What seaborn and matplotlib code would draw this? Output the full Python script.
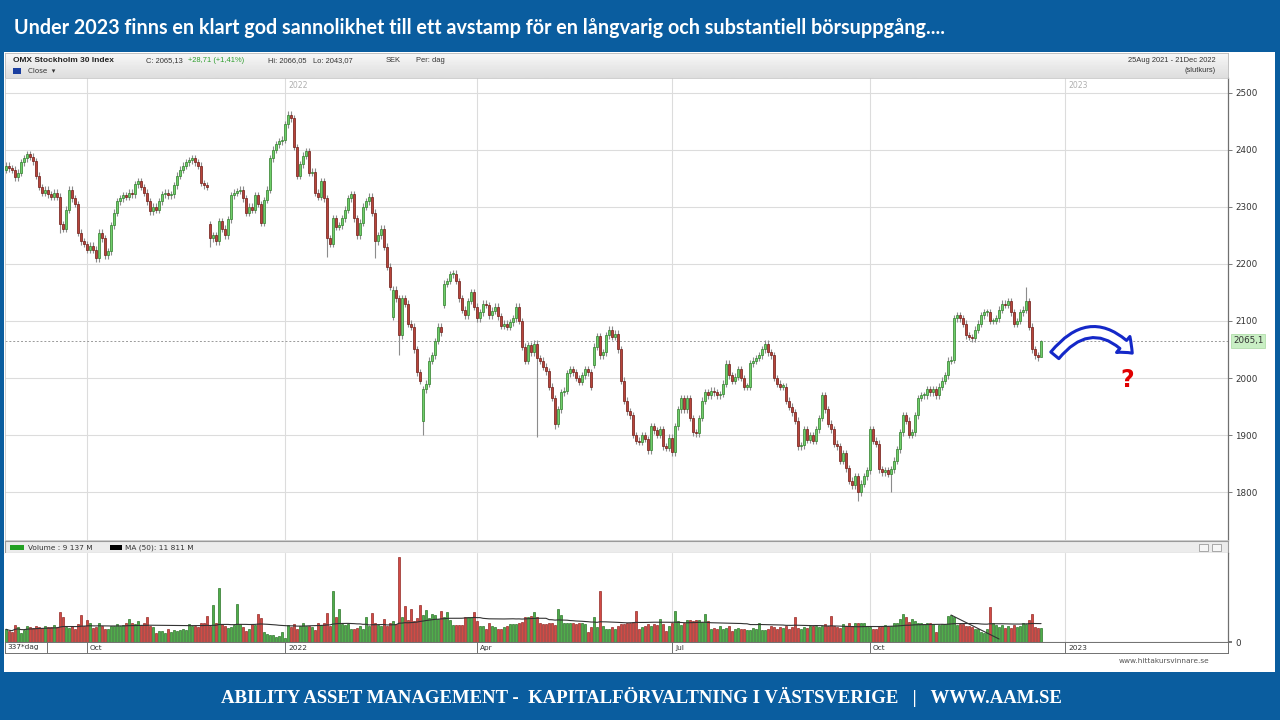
import numpy as np
import pandas as pd
import matplotlib
matplotlib.use("Agg")
import matplotlib.pyplot as plt
from matplotlib.patches import Rectangle, FancyArrowPatch
import seaborn as sns

# Slide texts
title = "Under 2023 finns en klart god sannolikhet till ett avstamp för en långvarig och substantiell börsuppgång...."
footer = "ABILITY ASSET MANAGEMENT -  KAPITALFÖRVALTNING I VÄSTSVERIGE   |   WWW.AAM.SE"
index_name = "OMX Stockholm 30 Index"

start_date = "2021-08-25"
end_date = "2022-12-21"

# Daily closes (OMXS30)
closes = [
    2372, 2368, 2365, 2352, 2360, 2378, 2385, 2392, 2388, 2380,
    2355, 2335, 2325, 2330, 2322, 2318, 2325, 2318, 2270, 2262,
    2295, 2330, 2315, 2305, 2255, 2240, 2235, 2225, 2232, 2225,
    2210, 2255, 2245, 2215, 2222, 2268, 2290, 2310, 2315, 2320,
    2318, 2325, 2322, 2340, 2345, 2335, 2325, 2310, 2292, 2300,
    2295, 2310, 2322, 2325, 2320, 2322, 2338, 2355, 2365, 2372,
    2378, 2382, 2385, 2378, 2372, 2342, 2338, 2335, 2245, 2250,
    2240, 2275, 2262, 2250, 2278, 2320, 2325, 2328, 2330, 2315,
    2290, 2300, 2295, 2320, 2305, 2272, 2312, 2330, 2385, 2400,
    2410, 2415, 2418, 2445, 2462, 2455, 2405, 2355, 2375, 2390,
    2398, 2360, 2362, 2325, 2318, 2345, 2315, 2245, 2235, 2280,
    2265, 2268, 2280, 2295, 2315, 2322, 2280, 2250, 2272, 2300,
    2310, 2318, 2290, 2240, 2250, 2262, 2230, 2195, 2160, 2155,
    2140, 2075, 2140, 2130, 2095, 2090, 2050, 2010, 1995, 1980,
    1990, 2030, 2040, 2065, 2090, 2080, 2165, 2170, 2182, 2183,
    2170, 2140, 2120, 2110, 2135, 2150, 2125, 2105, 2115, 2130,
    2128, 2110, 2118, 2125, 2108, 2092, 2095, 2090, 2098, 2105,
    2125, 2100, 2055, 2030, 2058, 2045, 2060, 2035, 2030, 2020,
    2012, 1985, 1965, 1920, 1945, 1975, 1978, 2008, 2015, 2010,
    2000, 1993, 2005, 2015, 2010, 1985, 2055, 2073, 2040, 2045,
    2075, 2085, 2072, 2078, 2050, 1995, 1960, 1942, 1935, 1900,
    1890, 1888, 1900, 1893, 1873, 1915, 1908, 1900, 1910, 1880,
    1878, 1895, 1870, 1915, 1945, 1965, 1945, 1965, 1930, 1905,
    1903, 1930, 1960, 1975, 1970, 1978, 1975, 1970, 1972, 1990,
    2025, 2005, 1995, 2002, 2015, 2000, 1985, 1985, 2026, 2030,
    2035, 2040, 2050, 2060, 2045, 2040, 2000, 1990, 1985, 1985,
    1960, 1950, 1940, 1925, 1880, 1882, 1910, 1892, 1900, 1890,
    1910, 1930, 1970, 1945, 1920, 1910, 1885, 1880, 1855, 1868,
    1842, 1820, 1812, 1828, 1800, 1815, 1828, 1838, 1910, 1890,
    1885, 1840, 1835, 1838, 1832, 1840, 1855, 1875, 1905, 1935,
    1925, 1900, 1905, 1935, 1965, 1970, 1970, 1980, 1975, 1980,
    1970, 1985, 1995, 2005, 2030, 2032, 2105, 2110, 2105, 2095,
    2075, 2072, 2070, 2085, 2095, 2110, 2115, 2115, 2100, 2100,
    2105, 2120, 2130, 2128, 2135, 2115, 2095, 2100, 2115, 2120,
    2135, 2090, 2050, 2040, 2036.42, 2065.13,
]

# Opens that gapped away from the previous close
gap_opens = {0: 2365, 68: 2270, 129: 2107, 139: 1925, 146: 2128, 196: 2023}
# Long shadows
wick_lows = {18: 2255, 30: 2203, 68: 2230, 107: 2212, 123: 2210, 131: 2040,
             139: 1900, 177: 1897, 183: 1910, 284: 1784, 295: 1800, 345: 2043.07}
wick_highs = {94: 2468, 340: 2160, 345: 2066.05}

# Daily turnover, thousands of M SEK
volumes = [
    8.5, 7.2, 7.0, 11.2, 9.8, 6.0, 8.0, 10.5, 10.0, 9.4,
    10.5, 10.2, 9.5, 10.8, 9.8, 10.0, 11.5, 10.0, 19.8, 17.0,
    10.0, 9.5, 10.8, 8.5, 12.0, 17.8, 11.0, 15.0, 12.5, 9.2,
    10.0, 13.0, 10.5, 9.0, 8.5, 11.0, 10.5, 12.0, 10.8, 11.5,
    12.5, 15.5, 13.0, 12.0, 14.0, 11.5, 12.5, 17.0, 11.0, 10.0,
    5.8, 7.2, 7.5, 6.0, 9.0, 7.0, 8.2, 7.5, 7.8, 8.5,
    8.0, 12.0, 10.5, 11.0, 10.0, 12.5, 13.0, 17.5, 11.0, 24.5,
    12.5, 36.0, 12.0, 10.5, 9.5, 10.0, 11.5, 25.5, 12.0, 10.0,
    7.5, 8.8, 12.0, 11.5, 18.5, 16.0, 6.5, 5.5, 4.5, 5.0,
    3.5, 4.0, 6.5, 3.0, 11.5, 10.0, 12.0, 8.5, 10.5, 12.5,
    11.0, 10.5, 10.0, 8.0, 12.5, 11.5, 13.0, 19.5, 11.0, 34.0,
    16.5, 22.0, 12.0, 11.5, 12.0, 9.0, 8.5, 9.5, 10.5, 9.0,
    17.0, 11.0, 19.5, 12.5, 11.5, 10.5, 15.5, 11.0, 12.5, 14.0,
    12.0, 57.0, 17.0, 24.0, 15.0, 22.0, 14.0, 16.0, 25.0, 18.0,
    21.5, 16.0, 19.0, 18.0, 15.5, 21.0, 17.0, 20.0, 14.5, 11.5,
    11.5, 11.5, 11.5, 17.0, 16.5, 17.0, 20.0, 14.0, 10.5, 11.0,
    9.0, 13.0, 10.5, 10.0, 9.0, 8.5, 10.0, 11.0, 12.0, 12.0,
    12.0, 13.0, 13.5, 17.0, 17.0, 17.5, 20.0, 17.0, 12.5, 12.0,
    12.0, 12.5, 13.0, 11.5, 22.0, 18.0, 12.5, 12.5, 13.0, 12.5,
    12.0, 12.5, 13.0, 12.0, 7.0, 10.0, 17.0, 10.0, 34.0, 11.0,
    8.5, 8.5, 10.0, 9.0, 11.0, 12.0, 12.0, 12.5, 13.0, 13.5,
    21.0, 8.5, 10.0, 11.0, 12.0, 11.0, 12.0, 11.5, 15.5, 12.0,
    7.5, 11.0, 13.0, 21.0, 14.0, 11.5, 12.5, 15.0, 15.0, 14.0,
    14.5, 15.0, 13.5, 19.0, 14.0, 9.0, 9.5, 9.0, 10.5, 8.5,
    9.5, 10.5, 7.5, 9.0, 9.5, 8.5, 9.0, 8.0, 8.0, 9.5,
    8.5, 13.0, 8.0, 8.0, 9.0, 10.5, 10.0, 9.0, 10.0, 9.5,
    10.5, 8.5, 10.0, 16.5, 9.5, 8.5, 10.0, 9.5, 10.5, 10.5,
    11.0, 10.0, 10.5, 12.0, 10.5, 17.5, 11.0, 10.0, 9.5, 12.0,
    10.5, 12.5, 11.0, 12.5, 13.0, 13.0, 12.5, 10.5, 10.0, 9.0,
    9.0, 10.0, 11.0, 11.5, 10.5, 11.0, 12.5, 13.0, 15.5, 18.5,
    17.0, 13.5, 15.5, 14.0, 13.0, 12.5, 12.0, 12.5, 13.0, 12.0,
    7.0, 11.5, 12.0, 12.0, 17.5, 18.0, 17.0, 11.5, 12.0, 12.0,
    10.5, 11.0, 10.0, 9.0, 8.5, 7.0, 6.0, 9.0, 23.5, 12.5,
    11.5, 10.0, 11.5, 9.5, 11.0, 9.5, 11.5, 10.0, 10.5, 12.5,
    12.0, 14.5, 19.0, 10.0, 9.5, 9.137,
]
# hand drawn trend line in the volume panel (day index, volume)
drawn_line_x = [315, 331]
drawn_line_y = [18.0, 2.0]

price_ticks = [1800, 1900, 2000, 2100, 2200, 2300, 2400, 2500]
quarter_labels = ["Oct", "2022", "Apr", "Jul", "Oct", "2023"]
quarter_starts = ["2021-10-01", "2022-01-01", "2022-04-01", "2022-07-01", "2022-10-01", "2023-01-01"]

last_close = closes[-1]

# ---------------------------------------------------------------
dates = pd.bdate_range(start_date, end_date)
n = len(closes)
assert len(dates) == n and len(volumes) == n
axis_days = pd.bdate_range(start_date, "2023-03-31")
tick_pos = [int(np.searchsorted(axis_days, pd.Timestamp(d))) for d in quarter_starts]

x = np.arange(n)
c = np.array(closes, dtype=float)
o = np.r_[c[0], c[:-1]]
for i, v in gap_opens.items():
    o[i] = v
WICK = 6
hi = np.maximum(o, c) + WICK
lo = np.minimum(o, c) - WICK
for i, v in wick_lows.items():
    lo[i] = v
for i, v in wick_highs.items():
    hi[i] = v
up = c >= o

sns.set_theme(style="white")
plt.rcParams["font.family"] = ["DejaVu Sans"]

W, H = 1280, 720
BLUE = "#0a5d9f"
fig = plt.figure(figsize=(W / 100, H / 100), dpi=100, facecolor=BLUE)


def box(x0, y0, x1, y1):
    return fig.add_axes([x0 / W, 1 - y1 / H, (x1 - x0) / W, (y1 - y0) / H])


def ftext(xp, yp, s, **kw):
    return fig.text(xp / W, 1 - yp / H, s, **kw)


fig.add_artist(Rectangle((4 / W, 1 - 672 / H), 1271 / W, 620 / H, transform=fig.transFigure,
                         fc="white", ec="none", zorder=-5))

XLIM = (-0.33, 407.3)

# header strip
axh = box(5, 53, 1228, 78)
grad = np.linspace(0.97, 0.87, 20).reshape(-1, 1)
axh.imshow(grad, aspect="auto", cmap="gray", vmin=0, vmax=1, extent=(0, 1, 0, 1))
axh.set_xticks([]); axh.set_yticks([])
for s in axh.spines.values():
    s.set_color("#b8b8b8"); s.set_linewidth(0.6)

small = 5.4
hdr = dict(fontsize=small, va="center", family=["Liberation Sans", "DejaVu Sans"])
ftext(13, 61, index_name, fontsize=6, fontweight="bold", color="#222", va="center",
      family=["Liberation Sans", "DejaVu Sans"])
ftext(146, 61, "C: 2065,13", color="#333", **hdr)
ftext(188, 61, "+28,71 (+1,41%)", color="#2e9e2e", **hdr)
ftext(268, 61, "Hi: 2066,05", color="#333", **hdr)
ftext(313, 61, "Lo: 2043,07", color="#333", **hdr)
ftext(386, 61, "SEK", color="#333", **hdr)
ftext(416, 61, "Per: dag", color="#333", **hdr)
fig.add_artist(Rectangle((13 / W, 1 - 74 / H), 8 / W, 6 / H, transform=fig.transFigure,
                         fc="#1b3fa0", ec="none"))
ftext(28, 71, "Close  ▾", fontsize=5.1, color="#333", va="center")
ftext(1216, 60, "25Aug 2021 - 21Dec 2022", color="#333", ha="right", **hdr)
ftext(1216, 71, "(slutkurs)", color="#333", ha="right", **hdr)

# price panel
axp = box(5, 78, 1228, 540)
axp.set_xlim(*XLIM)
axp.set_ylim(1716, 2526)
axp.vlines(x, lo, hi, color="#8c8c8c", lw=0.8, zorder=2)
body_h = np.maximum(np.abs(c - o), 2.0)
axp.bar(x[up], body_h[up], bottom=np.minimum(o, c)[up], width=0.85,
        color="#6fcf6a", edgecolor="#2f7d2a", linewidth=0.5, zorder=3)
axp.bar(x[~up], body_h[~up], bottom=np.minimum(o, c)[~up], width=0.85,
        color="#b8443a", edgecolor="#6e1a14", linewidth=0.5, zorder=3)
axp.axhline(last_close, color="#9a9a9a", lw=0.7, ls=(0, (2, 2)), zorder=1)
axp.set_yticks(price_ticks)
axp.set_yticklabels([str(t) for t in price_ticks])
axp.yaxis.tick_right()
axp.tick_params(axis="y", labelsize=6.3, labelcolor="#333", length=3, color="#666",
                width=0.6, right=True, pad=2)
axp.set_xticks(tick_pos)
axp.set_xticklabels([])
axp.tick_params(axis="x", length=0)
axp.grid(True, color="#dcdcdc", lw=0.8)
axp.set_axisbelow(True)
for k in ["left", "top", "bottom"]:
    axp.spines[k].set_color("#c8c8c8"); axp.spines[k].set_linewidth(0.6)
axp.spines["right"].set_color("#707070"); axp.spines["right"].set_linewidth(0.9)
for pos, lab in zip(tick_pos, quarter_labels):
    if lab.isdigit():
        axp.text(pos + 1.2, 2512, lab, fontsize=5.6, color="#b0b0b0", va="center")
axp.text(1.004, last_close, "2065,1", transform=axp.get_yaxis_transform(), fontsize=6.3,
         color="#333", va="center", ha="left",
         bbox=dict(boxstyle="square,pad=0.25", fc="#c9efc4", ec="#a8d8a0", lw=0.5))

# "which way" arrow and question mark
arrow = FancyArrowPatch((349, 2036), (376, 2040), connectionstyle="arc3,rad=-0.6",
                        arrowstyle="simple,head_width=15,head_length=9,tail_width=7.5",
                        fc="white", ec="#1428c8", lw=2.2, zorder=6, clip_on=False)
axp.add_patch(arrow)
ftext(1127, 380, "?", fontsize=17, fontweight="bold", color="#e00000", ha="center", va="center")

# volume header strip
axvh = box(5, 541, 1228, 553)
axvh.set_facecolor("#ececec")
axvh.set_xticks([]); axvh.set_yticks([])
for s in axvh.spines.values():
    s.set_color("#9a9a9a"); s.set_linewidth(0.8)
fig.add_artist(Rectangle((10 / W, 1 - 550 / H), 14 / W, 5 / H, transform=fig.transFigure,
                         fc="#22a022", ec="none"))
ftext(28, 547.5, "Volume : 9 137 M", fontsize=5.3, color="#333", va="center")
fig.add_artist(Rectangle((110 / W, 1 - 550 / H), 12 / W, 5 / H, transform=fig.transFigure,
                         fc="black", ec="none"))
ftext(125, 547.5, "MA (50): 11 811 M", fontsize=5.3, color="#333", va="center")
for bx in [1199, 1212]:
    fig.add_artist(Rectangle((bx / W, 1 - 551 / H), 9 / W, 7 / H, transform=fig.transFigure,
                             fc="#f6f6f6", ec="#8a8a8a", lw=0.5))

# volume panel
vol = np.array(volumes)
ma = pd.Series(vol).rolling(50, min_periods=1).mean()
axv = box(5, 553, 1228, 642)
axv.set_xlim(*XLIM)
axv.set_ylim(0, 59.4)
axv.bar(x[up], vol[up], width=0.85, color="#4fae4a", edgecolor="#1f6a1c", linewidth=0.45, zorder=2)
axv.bar(x[~up], vol[~up], width=0.85, color="#d24a45", edgecolor="#8a1d18", linewidth=0.45, zorder=2)
sns.lineplot(x=x, y=ma.values, ax=axv, color="#333333", lw=0.8, zorder=3)
axv.plot(drawn_line_x, drawn_line_y, color="#333333", lw=0.8, zorder=3)
axv.set_xticks(tick_pos)
axv.set_xticklabels([])
axv.tick_params(axis="x", length=0)
axv.grid(True, axis="x", color="#dcdcdc", lw=0.8)
axv.set_axisbelow(True)
axv.set_yticks([0])
axv.yaxis.tick_right()
axv.tick_params(axis="y", labelsize=6.3, labelcolor="#333", length=3, color="#666", pad=2)
axv.set_ylabel("")
for k in ["left", "top"]:
    axv.spines[k].set_visible(False)
axv.spines["right"].set_color("#707070"); axv.spines["right"].set_linewidth(0.9)
axv.spines["bottom"].set_color("#707070"); axv.spines["bottom"].set_linewidth(0.8)

# date label row
axl = box(5, 642, 1228, 653)
axl.set_xlim(*XLIM)
axl.set_ylim(0, 1)
axl.set_xticks([]); axl.set_yticks([])
for s in axl.spines.values():
    s.set_color("#707070"); s.set_linewidth(0.7)
axl.axvline(13.7, color="#707070", lw=0.7)
axl.text(0.6, 0.5, f"{n - 9}*dag", fontsize=5.3, color="#333", va="center")
for pos, lab in zip(tick_pos, quarter_labels):
    axl.axvline(pos, color="#707070", lw=0.7)
    axl.text(pos + 1.0, 0.45, lab, fontsize=5.3, color="#333", va="center")

ftext(1119, 661, "www.hittakursvinnare.se", fontsize=5.3, color="#555", va="center")

# slide title and footer
ftext(14, 28, title, fontsize=14.2, fontweight="bold", color="white", va="center",
      family=["Lato", "DejaVu Sans"])
ftext(641, 697, footer, fontsize=13.5, fontweight="bold", color="white", va="center", ha="center",
      family=["Liberation Serif", "DejaVu Serif"])

fig.savefig("out.png", dpi=100, facecolor=BLUE)
